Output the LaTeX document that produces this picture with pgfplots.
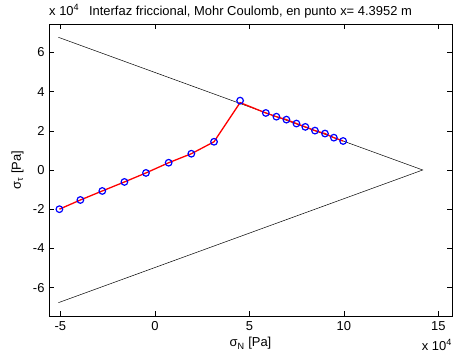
\documentclass[border=0pt]{standalone}
\usepackage{fontspec}
\setmainfont{Liberation Sans}
\usepackage{pgfplots}
\pgfplotsset{compat=1.18}
\begin{document}
\fontsize{13}{15}\selectfont
\begin{tikzpicture}
\begin{axis}[
  scale only axis, width=403bp, height=292bp,
  xmin=-5.6, xmax=15.72, ymin=-7.45, ymax=7.45,
  xtick={-5,0,5,10,15}, xticklabels={-5,0,5,10,15},
  ytick={-6,-4,-2,0,2,4,6}, yticklabels={-6,-4,-2,0,2,4,6},
  tick align=inside, major tick length=5bp,
  tick style={black, line width=0.5pt},
  axis line style={line width=0.6pt},
  xticklabel style={font=\fontsize{13}{15}\selectfont, yshift=-1bp},
  yticklabel style={font=\fontsize{13}{15}\selectfont},
  label style={font=\fontsize{13}{15}\selectfont, inner sep=0pt},
  every axis title shift=0pt,
  title style={font=\fontsize{13}{15}\selectfont, inner sep=0pt},
  xlabel={σ\textsubscript{N} [Pa]},
  ylabel={σ\textsubscript{τ} [Pa]},
  xlabel style={at={(axis description cs:0.5,-0.106)}, anchor=base},
  ylabel style={at={(axis description cs:-0.0695,0.5)}, anchor=base},
  title={Interfaz friccional, Mohr Coulomb, en punto x= 4.3952 m},
  title style={at={(axis description cs:0.5,1.0308)}, anchor=base},
  clip=false,
]
\addplot[black, line width=0.5pt] coordinates {(-5.1,6.77) (14.17,0) (-5.1,-6.77)};
\addplot[red, line width=1.3bp] coordinates {
(-5.05,-2.0) (-3.94,-1.53) (-2.78,-1.07) (-1.61,-0.61) (-0.47,-0.15)
(0.73,0.37) (1.93,0.83) (3.13,1.44) (4.51,3.44)
(5.87,2.91) (6.43,2.72) (6.96,2.57) (7.49,2.37) (7.96,2.2)
(8.47,2.01) (9.0,1.86) (9.47,1.65) (9.96,1.48)};
\addplot[blue, only marks, mark=o, mark size=3.3bp, line width=1.2bp] coordinates {
(-5.05,-2.0) (-3.94,-1.53) (-2.78,-1.07) (-1.61,-0.61) (-0.47,-0.15)
(0.73,0.37) (1.93,0.83) (3.13,1.44) (4.51,3.54)
(5.87,2.91) (6.43,2.72) (6.96,2.57) (7.49,2.37) (7.96,2.2)
(8.47,2.01) (9.0,1.86) (9.47,1.65) (9.96,1.48)};
\node[anchor=base west, inner sep=0pt, font=\fontsize{13}{15}\selectfont] at (axis description cs:0,1.03) {x 10\textsuperscript{4}};
\node[anchor=base east, inner sep=0pt, font=\fontsize{13}{15}\selectfont] at (axis description cs:1,-0.1165) {x 10\textsuperscript{4}};
\end{axis}
\path (current axis.south west) ++(-49bp,-43bp) coordinate (bbA);
\path (current axis.north east) ++(9bp,24bp) coordinate (bbB);
\useasboundingbox (bbA) rectangle (bbB);
\end{tikzpicture}
\end{document}
